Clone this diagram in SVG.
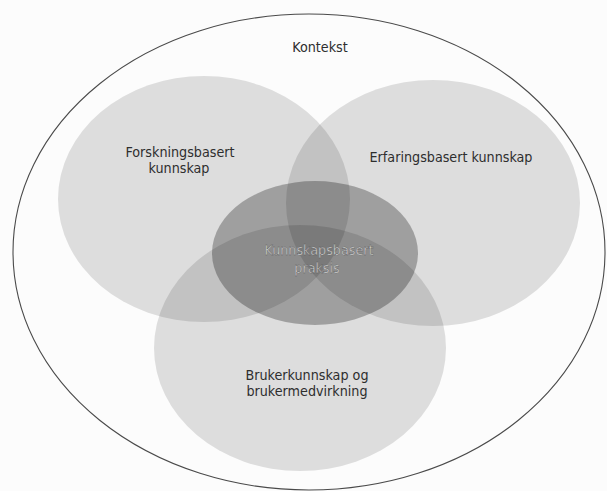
<svg xmlns="http://www.w3.org/2000/svg" width="607" height="491" viewBox="0 0 607 491">
<style>
.bg{fill:#fcfcfc}
.outer{fill:none;stroke:#4a4a4a;stroke-width:1.1}
.c{fill:#000;fill-opacity:0.12}
.mid{fill:#000;fill-opacity:0.28}
.t{font-family:"DejaVu Sans Condensed","Liberation Sans Narrow","Liberation Sans",sans-serif;font-size:14.2px;fill:#2e2e2e;text-anchor:middle}
.tl{font-family:"DejaVu Sans Condensed","Liberation Sans Narrow","Liberation Sans",sans-serif;font-size:14.2px;fill:#e2e2e2;stroke:#555;stroke-width:0.4;text-anchor:middle}
</style>
<rect class="bg" x="0" y="0" width="607" height="491"/>
<g id="kontekst">
<ellipse class="outer" cx="309" cy="252" rx="296" ry="238"/>
<text class="t" x="320" y="52">Kontekst</text>
</g>
<g id="forskningsbasert">
<ellipse class="c" cx="204" cy="199" rx="146" ry="123"/>
<text class="t" x="180" y="157">Forskningsbasert</text>
<text class="t" x="179" y="173">kunnskap</text>
</g>
<g id="erfaringsbasert">
<ellipse class="c" cx="433" cy="203" rx="147" ry="123"/>
<text class="t" x="451" y="162">Erfaringsbasert kunnskap</text>
</g>
<g id="brukerkunnskap">
<ellipse class="c" cx="300" cy="348" rx="146" ry="123"/>
<text class="t" x="307" y="380">Brukerkunnskap og</text>
<text class="t" x="307" y="396">brukermedvirkning</text>
</g>
<g id="kunnskapsbasert">
<ellipse class="mid" cx="315" cy="253" rx="103" ry="72"/>
<text class="tl" x="319" y="255">Kunnskapsbasert</text>
<text class="tl" x="317" y="273">praksis</text>
</g>
<g id="connectors"></g>
</svg>
